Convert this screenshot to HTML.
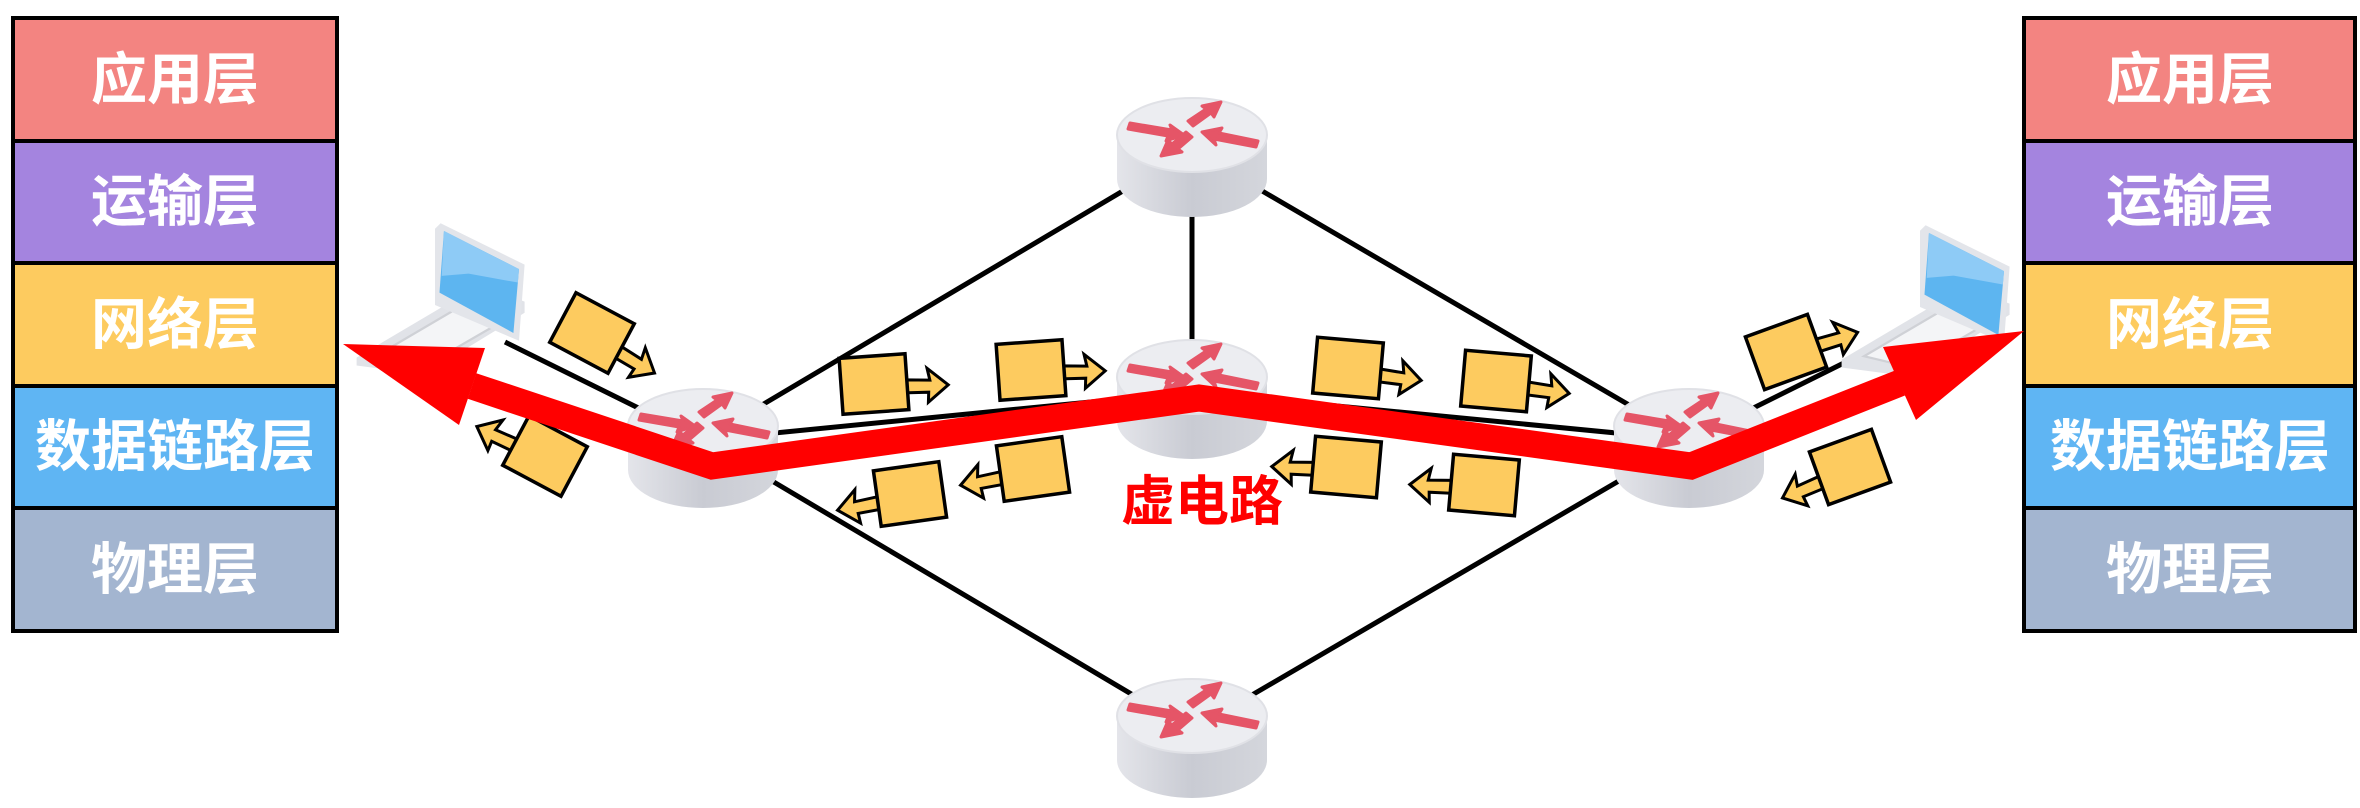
<!DOCTYPE html>
<html><head><meta charset="utf-8"><style>
html,body{margin:0;padding:0;background:#fff;}
svg{display:block;}
.t{font-family:"Liberation Sans","Noto Sans CJK SC",sans-serif;font-weight:bold;font-size:56px;fill:#fff;text-anchor:middle;}
</style></head><body>
<svg width="2360" height="808" viewBox="0 0 2360 808" xmlns="http://www.w3.org/2000/svg">
<defs>
<linearGradient id="body" x1="0" x2="1" y1="0" y2="0">
<stop offset="0" stop-color="#e4e5ea"/><stop offset="0.5" stop-color="#c9cbd3"/><stop offset="1" stop-color="#d4d6dc"/>
</linearGradient>
<g id="router">
<path d="M-75,-22 L-75,22 A75,38 0 0 0 75,22 L75,-22 Z" fill="url(#body)"/>
<ellipse cx="0" cy="-22" rx="75" ry="37" fill="#ecedf1" stroke="#e0e1e6" stroke-width="2"/>
<g fill="#e55567" stroke="#e55567" stroke-width="3" stroke-linejoin="round">
<polygon points="-62,-34 -20,-27 -22,-32 -8,-22 -26,-16 -24,-21 -64,-28"/>
<polygon points="-4,-36 14,-48 10,-51 29,-55 22,-40 19,-44 1,-31"/>
<polygon points="64,-10 22,-18 24,-12 10,-25 30,-29 27,-24 66,-16"/>
<polygon points="0,-20 -14,-8 -10,-5 -31,-1 -24,-17 -20,-13 -6,-25"/>
</g>
</g>
<g id="pkt">
<polygon points="30,-2 56,0 54,-12 74,6 53,22 54,12 30,11" fill="#fdcb5f" stroke="#000" stroke-width="3" stroke-linejoin="miter"/>
<rect x="-33" y="-28" width="66" height="56" fill="#fdcb5f" stroke="#000" stroke-width="3.5"/>
</g>
<g id="laptop">
<polygon points="-70,55 40,-10 80,5 80,15 -10,70 -70,62" fill="#e1e3e8"/>
<polygon points="-50,52 30,5 68,18 -8,62" fill="#f4f5f7" stroke="#cfd1d6" stroke-width="2"/>
<polygon points="0,-60 5,-65 80,-28 75,40 0,8" fill="#e3e5ea"/>
<polygon points="8,-58 75,-24 70,33 4,-3" fill="#5db5f0"/>
<polygon points="8,-58 75,-24 74,-12 30,-20 6,-18" fill="#8ecbf6"/>
</g>
</defs>

<g stroke="#000" stroke-width="4">
<rect x="13" y="18" width="324" height="123" fill="#f38481"/>
<rect x="13" y="141" width="324" height="122" fill="#a484df"/>
<rect x="13" y="263" width="324" height="123" fill="#fdcb5f"/>
<rect x="13" y="386" width="324" height="122" fill="#5fb5f3"/>
<rect x="13" y="508" width="324" height="123" fill="#a3b5d0"/>
</g>
<text class="t" x="175" y="99">应用层</text>
<text class="t" x="175" y="221">运输层</text>
<text class="t" x="175" y="344">网络层</text>
<text class="t" x="175" y="466">数据链路层</text>
<text class="t" x="175" y="589">物理层</text>

<g stroke="#000" stroke-width="4">
<rect x="2024" y="18" width="331" height="123" fill="#f38481"/>
<rect x="2024" y="141" width="331" height="122" fill="#a484df"/>
<rect x="2024" y="263" width="331" height="123" fill="#fdcb5f"/>
<rect x="2024" y="386" width="331" height="122" fill="#5fb5f3"/>
<rect x="2024" y="508" width="331" height="123" fill="#a3b5d0"/>
</g>
<text class="t" x="2190" y="99">应用层</text>
<text class="t" x="2190" y="221">运输层</text>
<text class="t" x="2190" y="344">网络层</text>
<text class="t" x="2190" y="466">数据链路层</text>
<text class="t" x="2190" y="589">物理层</text>

<g stroke="#000" stroke-width="5">
<line x1="703" y1="440" x2="1192" y2="150"/>
<line x1="703" y1="440" x2="1192" y2="392"/>
<line x1="703" y1="440" x2="1192" y2="730"/>
<line x1="1192" y1="150" x2="1192" y2="392"/>
<line x1="1192" y1="150" x2="1689" y2="440"/>
<line x1="1192" y1="392" x2="1689" y2="440"/>
<line x1="1192" y1="730" x2="1689" y2="440"/>
<line x1="505" y1="342" x2="703" y2="440"/>
<line x1="1689" y1="440" x2="1880" y2="345"/>
</g>

<use href="#laptop" transform="translate(435,296) scale(1.12)"/>
<use href="#laptop" transform="translate(1920,298) scale(1.12)"/>

<use href="#router" x="1192" y="157"/>
<use href="#router" x="1192" y="399"/>
<use href="#router" x="1192" y="738"/>
<use href="#router" x="703" y="448"/>
<use href="#router" x="1689" y="448"/>

<use href="#pkt" transform="translate(592,333) rotate(28)"/>
<use href="#pkt" transform="translate(545,456) rotate(-152) scale(1,-1)"/>
<use href="#pkt" transform="translate(874,384) rotate(-4)"/>
<use href="#pkt" transform="translate(1031,370) rotate(-4)"/>
<use href="#pkt" transform="translate(1348,368) rotate(5)"/>
<use href="#pkt" transform="translate(1496,381) rotate(5)"/>
<use href="#pkt" transform="translate(910,494) rotate(172) scale(1,-1)"/>
<use href="#pkt" transform="translate(1033,469) rotate(172) scale(1,-1)"/>
<use href="#pkt" transform="translate(1346,467) rotate(-175) scale(1,-1)"/>
<use href="#pkt" transform="translate(1484,485) rotate(-175) scale(1,-1)"/>
<use href="#pkt" transform="translate(1786,352) rotate(-20)"/>
<use href="#pkt" transform="translate(1850,467) rotate(160) scale(1,-1)"/>

<polyline points="472,386 712,466 1199,398 1691,466 1900,383" fill="none" stroke="#ff0000" stroke-width="27" stroke-linejoin="miter"/>
<polygon points="343,344 485,348 459,425" fill="#ff0000"/>
<polygon points="2024,331 1883,347 1916,420" fill="#ff0000"/>
<text x="1202" y="520" font-family="Liberation Sans,Noto Sans CJK SC,sans-serif" font-weight="bold" font-size="54" fill="#ff0000" text-anchor="middle">虚电路</text>
</svg>
</body></html>
